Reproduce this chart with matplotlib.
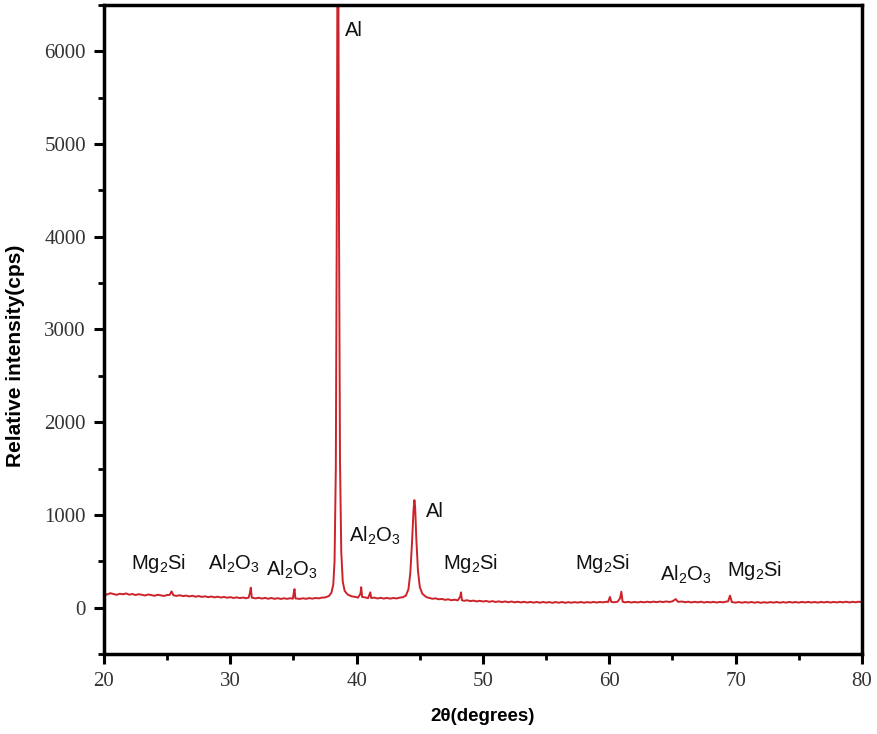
import matplotlib
matplotlib.use("Agg")
import matplotlib.pyplot as plt
from matplotlib.ticker import MultipleLocator

plt.rcParams['mathtext.fontset'] = 'custom'
plt.rcParams['mathtext.rm'] = 'Liberation Sans'
plt.rcParams['mathtext.default'] = 'rm'

# XRD pattern (2theta in degrees, intensity in cps)
two_theta = [
    20.0, 20.25, 20.5, 20.75, 21.0, 21.25, 21.5, 21.75, 22.0, 22.25, 22.5,
    22.75, 23.0, 23.25, 23.5, 23.75, 24.0, 24.25, 24.5, 24.75, 25.0,
    25.2, 25.35, 25.5,
    25.75, 26.0, 26.25, 26.5, 26.75, 27.0, 27.25, 27.5, 27.75, 28.0, 28.25,
    28.5, 28.75, 29.0, 29.25, 29.5, 29.75, 30.0, 30.25, 30.5, 30.75, 31.0,
    31.25, 31.45, 31.55, 31.62, 31.7,
    32.0, 32.25, 32.5, 32.75, 33.0, 33.25, 33.5, 33.75, 34.0, 34.25, 34.5,
    34.75, 34.95, 35.02, 35.08, 35.15,
    35.5, 35.75, 36.0, 36.25, 36.5, 36.75, 37.0, 37.25, 37.5, 37.8,
    38.0, 38.15, 38.25, 38.35, 38.42, 38.48, 38.55, 38.6, 38.68, 38.78,
    38.9, 39.05, 39.3, 39.6, 39.9, 40.1, 40.3, 40.36, 40.43, 40.7,
    40.9, 41.08, 41.15, 41.4, 41.65, 41.9, 42.15, 42.4, 42.65, 42.9,
    43.15, 43.4, 43.65, 43.9,
    44.1, 44.25, 44.38, 44.5, 44.57, 44.63, 44.72, 44.85, 45.0,
    45.2, 45.5, 45.75, 46.0, 46.25, 46.5, 46.75, 47.0, 47.25, 47.5,
    47.75, 48.0, 48.2, 48.26, 48.33, 48.5, 48.75, 49.0, 49.25, 49.5,
    49.75, 50.0,
    50.25, 50.5, 50.75, 51.0, 51.25, 51.5, 51.75, 52.0, 52.25, 52.5,
    52.75, 53.0, 53.25, 53.5, 53.75, 54.0, 54.25, 54.5, 54.75, 55.0,
    55.25, 55.5, 55.75, 56.0, 56.25, 56.5, 56.75, 57.0, 57.25, 57.5,
    57.75, 58.0, 58.25, 58.5, 58.75, 59.0, 59.25, 59.5, 59.75, 59.9,
    60.05, 60.15, 60.4, 60.65, 60.85, 60.95, 61.05, 61.25, 61.5, 61.75,
    62.0, 62.25, 62.5, 62.75, 63.0, 63.25, 63.5, 63.75, 64.0, 64.25,
    64.5, 64.75, 65.0, 65.25, 65.45, 65.75, 66.0, 66.25, 66.5, 66.75,
    67.0, 67.25, 67.5, 67.75, 68.0, 68.25, 68.5, 68.75, 69.0, 69.25,
    69.4, 69.55, 69.7, 70.0, 70.25, 70.5, 70.75, 71.0, 71.25, 71.5,
    71.75, 72.0, 72.25, 72.5, 72.75, 73.0, 73.25, 73.5, 73.75, 74.0,
    74.25, 74.5, 74.75, 75.0, 75.25, 75.5, 75.75, 76.0, 76.25, 76.5,
    76.75, 77.0, 77.25, 77.5, 77.75, 78.0, 78.25, 78.5, 78.75, 79.0,
    79.25, 79.5, 79.75, 80.0,
]
intensity = [
    152, 141, 156, 147, 138, 150, 144, 153, 140, 147, 136,
    145, 139, 131, 142, 135, 128, 139, 133, 126, 136,
    138, 175, 132,
    127, 134, 124, 130, 121, 128, 118, 125, 116, 122, 113,
    120, 111, 118, 109, 115, 107, 113, 104, 111, 103, 109,
    101, 108, 160, 215, 108,
    100, 107, 98, 105, 96, 104, 95, 102, 94, 101, 95,
    102, 96, 160, 200, 100,
    94, 101, 95, 103, 97, 104, 100, 108, 110, 125,
    160, 250, 500, 1500, 4000, 7000, 7000, 4200, 1600, 600,
    280, 180, 140, 122, 116, 108, 150, 220, 115, 110,
    102, 165, 104, 108, 99, 106, 98, 105, 97, 104,
    99, 108, 112, 130,
    200, 380, 700, 1050, 1160, 1080, 750, 400, 220,
    150, 115, 104, 96, 100, 90, 94, 84, 90, 80,
    86, 78, 120, 165, 80, 74, 80, 70, 76, 67,
    74, 66,
    72, 63, 70, 61, 68, 60, 67, 58, 66, 57,
    64, 56, 63, 55, 62, 54, 61, 53, 61, 54,
    60, 52, 60, 53, 61, 52, 59, 53, 60, 54,
    61, 53, 60, 54, 62, 55, 61, 57, 64, 60,
    115, 62, 58, 64, 100, 172, 64, 57, 63, 55,
    62, 56, 63, 57, 64, 58, 65, 59, 66, 60,
    67, 61, 68, 92, 62, 66, 58, 64, 56, 63,
    57, 64, 55, 62, 56, 63, 55, 62, 57, 65,
    68, 130, 60, 54, 61, 53, 60, 54, 61, 53,
    60, 52, 59, 53, 60, 54, 61, 53, 60, 54,
    62, 55, 61, 54, 62, 56, 62, 55, 61, 54,
    62, 56, 63, 55, 62, 56, 63, 57, 64, 56,
    63, 58, 64, 59,
]

# Phase labels: text, x position (2theta), y position (cps)
label_texts = ['Al', r'Mg$_2$Si', r'Al$_2$O$_3$', r'Al$_2$O$_3$', r'Al$_2$O$_3$', 'Al',
               r'Mg$_2$Si', r'Mg$_2$Si', r'Al$_2$O$_3$', r'Mg$_2$Si']
label_x = [39.1, 22.1, 28.2, 32.8, 39.4, 45.5, 46.8, 57.3, 64.0, 69.3]
label_y = [6220, 476, 476, 411, 778, 1038, 476, 476, 357, 400]

x_ticks = [20, 30, 40, 50, 60, 70, 80]
y_ticks = [0, 1000, 2000, 3000, 4000, 5000, 6000]

fig = plt.figure(figsize=(8.78, 7.34), dpi=100)
ax = fig.add_axes([104/878, 1-654/734, (862-104)/878, (654-5)/734])

ax.plot(two_theta, intensity, color='#cc2229', lw=1.4)

for t, x, y in zip(label_texts, label_x, label_y):
    ax.text(x, y, t, ha='left', va='center', fontsize=14.5,
            family='Liberation Sans', color='#111111')

ax.set_xlim(20, 80)
ax.set_ylim(-500, 6500)
ax.set_xticks(x_ticks)
ax.set_yticks(y_ticks)
ax.xaxis.set_minor_locator(MultipleLocator(5))
ax.yaxis.set_minor_locator(MultipleLocator(500))

for s in ax.spines.values():
    s.set_linewidth(2.5)
ax.tick_params(which='major', direction='out', length=7, width=2.2,
               top=False, right=False, labelsize=15, pad=6)
ax.tick_params(which='minor', direction='out', length=4.5, width=2.0,
               top=False, right=False)
for lab in ax.get_xticklabels() + ax.get_yticklabels():
    lab.set_family('Liberation Serif')
    lab.set_color('#333333')

ax.set_xlabel('2θ(degrees)', fontsize=13.5, fontweight='bold',
              family='Liberation Sans', labelpad=12)
ax.set_ylabel('Relative intensity(cps)', fontsize=15, fontweight='bold',
              family='Liberation Sans', va='center')
ax.yaxis.set_label_coords((16 - 104) / 758, 0.459)

fig.savefig('out.png', dpi=100)
